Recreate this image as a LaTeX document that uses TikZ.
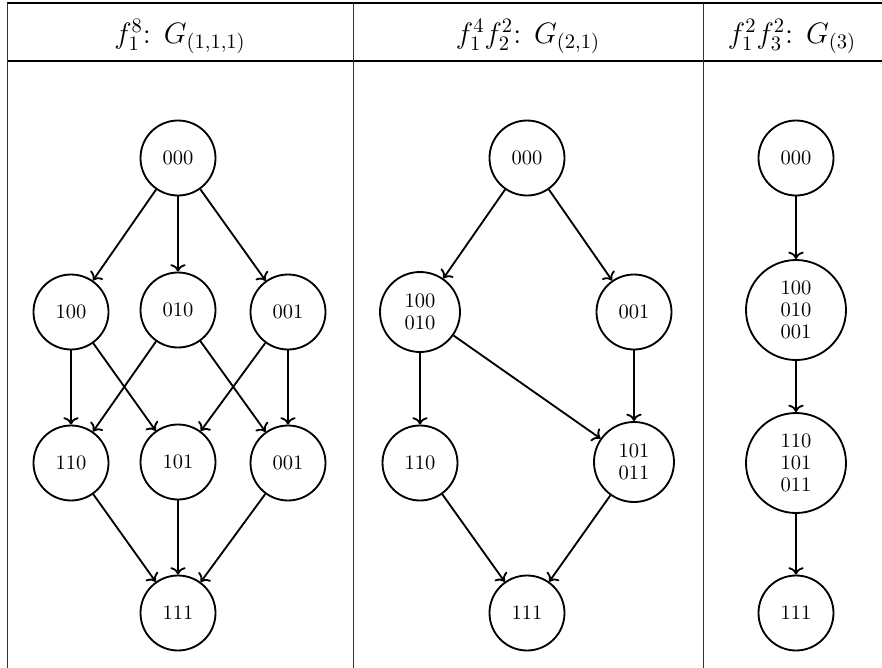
\documentclass[tikz,border=0pt]{standalone}
\usetikzlibrary{arrows.meta}

% one drawing unit is one pixel of a 882 x 668 canvas
\newlength{\pxu}
\setlength{\pxu}{0.4878pt}

\tikzset{
  vert/.style={draw, circle, line width=0.9pt, inner sep=0pt, align=center,
               font=\fontsize{10}{10.6}\selectfont},
  small/.style={vert, minimum size=75\pxu},
  mid/.style={vert, minimum size=80\pxu},
  big/.style={vert, minimum size=100\pxu},
  edge/.style={->, line width=0.9pt},
  head/.style={anchor=base, font=\Large, inner sep=0pt},
  rulethick/.style={line width=0.8pt},
  rulethin/.style={line width=0.5pt},
  colsep/.style={line width=0.45pt, black!80},
}

\begin{document}
\begin{tikzpicture}[x=\pxu, y=-\pxu]
\useasboundingbox (0,0) rectangle (882,668);

% table frame
\draw[rulethick] (7,3) -- (882,3);
\draw[rulethin] (7,61) -- (882,61);
\draw[colsep] (7,3) -- (7,668);
\draw[colsep] (353,3) -- (353,668);
\draw[colsep] (703,3) -- (703,668);

% column headers
\node[head] (h1) at (180,43) {$f_1^8$: $G_{(1,1,1)}$};
\node[head] (h2) at (528,43) {$f_1^4f_2^2$: $G_{(2,1)}$};
\node[head] (h3) at (792,43) {$f_1^2f_3^2$: $G_{(3)}$};

% first column
\node[small] (a000) at (178,158) {000};
\node[small] (a100) at (71,312) {100};
\node[small] (a010) at (178,310) {010};
\node[small] (a001) at (288,312) {001};
\node[small] (a110) at (71,463) {110};
\node[small] (a101) at (178,462) {101};
\node[small] (a011) at (288,463) {001};
\node[small] (a111) at (178,613) {111};

\draw[edge] (a000) -- (a100);
\draw[edge] (a000) -- (a010);
\draw[edge] (a000) -- (a001);
\draw[edge] (a100) -- (a110);
\draw[edge] (a100) -- (a101);
\draw[edge] (a010) -- (a110);
\draw[edge] (a010) -- (a011);
\draw[edge] (a001) -- (a101);
\draw[edge] (a001) -- (a011);
\draw[edge] (a110) -- (a111);
\draw[edge] (a101) -- (a111);
\draw[edge] (a011) -- (a111);

% second column
\node[small] (b000) at (527,158) {000};
\node[mid] (b1) at (420,312) {100\\010};
\node[small] (b001) at (634,312) {001};
\node[small] (b110) at (420,463) {110};
\node[mid] (b2) at (634,462) {101\\011};
\node[small] (b111) at (527,613) {111};

\draw[edge] (b000) -- (b1);
\draw[edge] (b000) -- (b001);
\draw[edge] (b1) -- (b110);
\draw[edge] (b1) -- (b2);
\draw[edge] (b001) -- (b2);
\draw[edge] (b110) -- (b111);
\draw[edge] (b2) -- (b111);

% third column
\node[small] (c000) at (796,158) {000};
\node[big] (c1) at (796,310) {100\\010\\001};
\node[big] (c2) at (796,463) {110\\101\\011};
\node[small] (c111) at (796,613) {111};

\draw[edge] (c000) -- (c1);
\draw[edge] (c1) -- (c2);
\draw[edge] (c2) -- (c111);
\end{tikzpicture}
\end{document}
